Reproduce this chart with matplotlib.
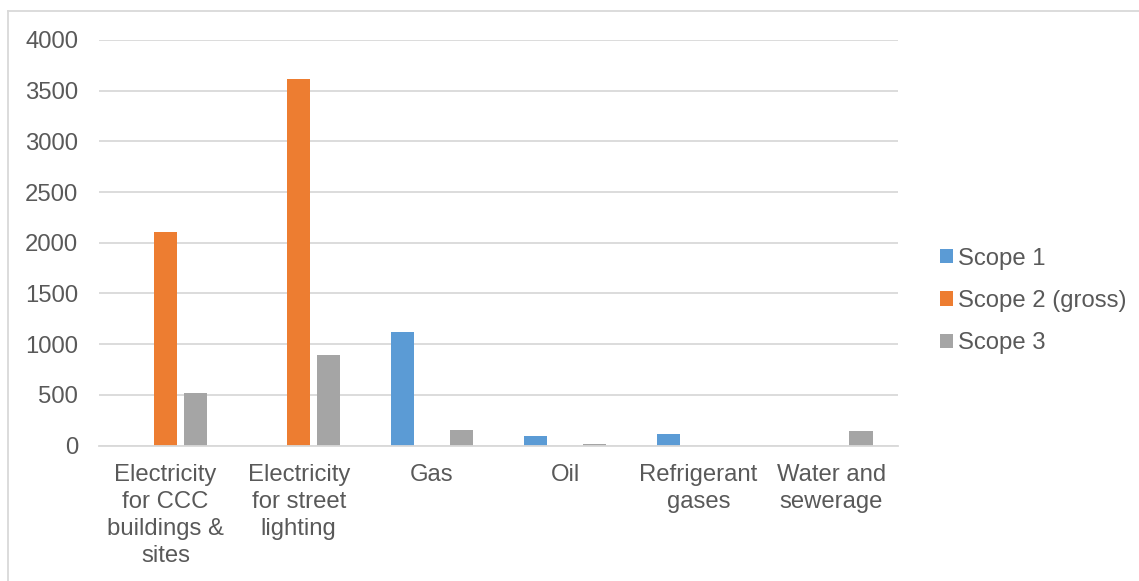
import matplotlib
matplotlib.use("Agg")
import matplotlib.pyplot as plt
import numpy as np
from matplotlib.patches import Patch
from matplotlib.lines import Line2D

plt.rcParams['font.family'] = ['Liberation Sans', 'DejaVu Sans']

categories = ["Electricity\nfor CCC\nbuildings &\nsites", "Electricity\nfor street\nlighting",
              "Gas", "Oil", "Refrigerant\ngases", "Water and\nsewerage"]
series_names = ["Scope 1", "Scope 2 (gross)", "Scope 3"]
scope1 = [0, 0, 1120, 90, 115, 0]
scope2 = [2110, 3620, 0, 0, 0, 0]
scope3 = [520, 890, 155, 15, 0, 145]
yticks = [0, 500, 1000, 1500, 2000, 2500, 3000, 3500, 4000]

colors = ["#5B9BD5", "#ED7D31", "#A5A5A5"]
text_color = "#595959"
grid_color = "#D9D9D9"
fs = 17.2

W, H = 1139, 581
fig = plt.figure(figsize=(W / 100, H / 100), dpi=100)
ax = fig.add_axes([99 / W, (H - 445.5) / H, (898 - 99) / W, (445.5 - 40) / H])

x = np.arange(len(categories))
bw = 0.175
off = 0.223
for i, (vals, c, name) in enumerate(zip([scope1, scope2, scope3], colors, series_names)):
    ax.bar(x + (i - 1) * off, vals, width=bw, color=c, label=name, zorder=3)

ax.set_xlim(-0.5, len(categories) - 0.5)
ax.set_ylim(0, 4000)
ax.set_yticks(yticks)
ax.set_yticklabels([str(v) for v in yticks])
ax.set_xticks(x)
ax.set_xticklabels(categories, linespacing=1.30)
ax.tick_params(axis='both', length=0, labelsize=fs, colors=text_color)
ax.tick_params(axis='y', pad=15)
ax.tick_params(axis='x', pad=13)
ax.grid(axis='y', color=grid_color, linewidth=1.3, zorder=0)
for s in ['top', 'right', 'left']:
    ax.spines[s].set_visible(False)
ax.spines['bottom'].set_color(grid_color)
ax.spines['bottom'].set_linewidth(1.3)
ax.spines['bottom'].set_zorder(4)

handles = [Patch(facecolor=c, edgecolor='none') for c in colors]
leg = fig.legend(handles, series_names, loc='center left',
                 bbox_to_anchor=(940 / W, 1 - 301 / H), frameon=False,
                 fontsize=fs, handlelength=0.55, handleheight=0.55,
                 handletextpad=0.22, labelspacing=0.85, borderpad=0, borderaxespad=0)
for t in leg.get_texts():
    t.set_color(text_color)

# chart frame (top and left edges)
fig.add_artist(Line2D([8 / W, 1], [1 - 11 / H, 1 - 11 / H], color=grid_color, linewidth=1.3))
fig.add_artist(Line2D([8 / W, 8 / W], [0, 1 - 11 / H], color=grid_color, linewidth=1.3))

fig.savefig("out.png", dpi=100, facecolor='white')
